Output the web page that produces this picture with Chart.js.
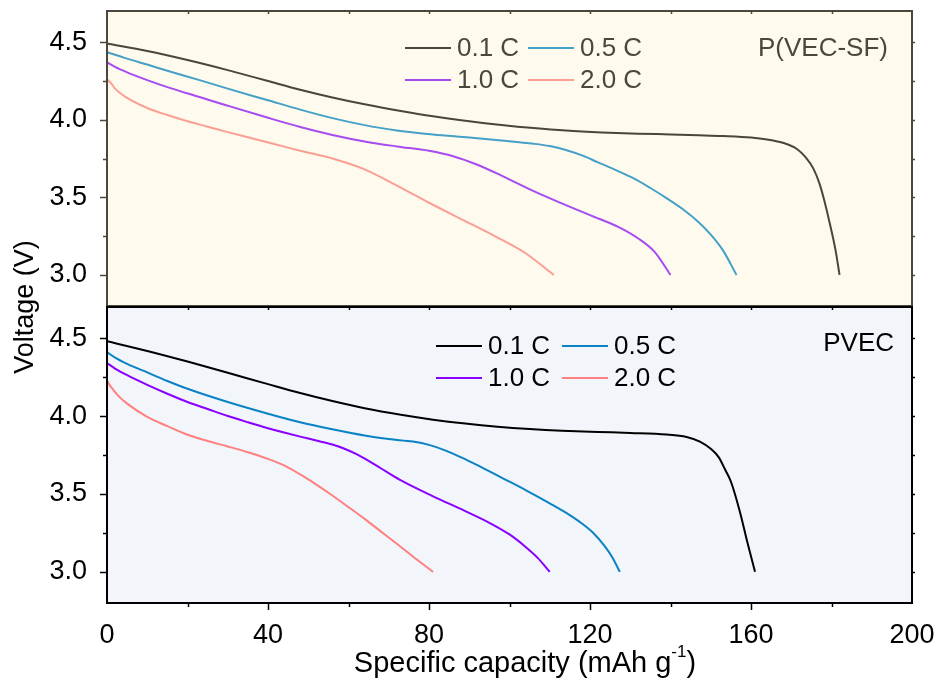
<!DOCTYPE html>
<html>
<head>
<meta charset="utf-8">
<script src="https://cdn.jsdelivr.net/npm/chart.js@4.4.1/dist/chart.umd.min.js"></script>
<style>
  html, body { margin: 0; padding: 0; background: #ffffff; }
  #wrap { position: relative; width: 939px; height: 682px; }
  #wrap canvas { position: absolute; left: 0; top: 0; }
</style>
</head>
<body>
<div id="wrap">
  <canvas id="chartSF" width="939" height="682"></canvas>
  <canvas id="chartPVEC" width="939" height="682"></canvas>
</div>
<script>
/* ── Axis ticks ── */
const xTickVals = [0, 40, 80, 120, 160, 200];
const yTickVals = [3.0, 3.5, 4.0, 4.5];
const rateLabels = ['0.1 C', '0.5 C', '1.0 C', '2.0 C'];

/* ── P(VEC-SF): capacity (mAh/g) and voltage (V) ── */
const capSF01  = [0, 10, 20, 30, 40, 48, 56, 64, 73, 81, 90, 98, 106, 114, 123, 132, 140, 147, 153, 160, 165.5, 169, 171.5, 173.5, 175.5, 177, 178, 179.5, 181, 182];
const voltSF01 = [4.49, 4.442, 4.384, 4.319, 4.249, 4.193, 4.143, 4.099, 4.056, 4.022, 3.99, 3.966, 3.946, 3.93, 3.918, 3.91, 3.905, 3.90, 3.895, 3.885, 3.866, 3.842, 3.81, 3.76, 3.685, 3.59, 3.50, 3.34, 3.16, 3.0];
const capSF05  = [0, 3, 6, 10, 15, 23, 30, 40, 48, 56, 64, 72, 81, 90, 98, 106, 110, 114, 118, 122, 126, 131, 135, 139, 143, 147, 150, 153, 156.4];
const voltSF05 = [4.435, 4.41, 4.385, 4.355, 4.315, 4.255, 4.20, 4.125, 4.065, 4.01, 3.965, 3.93, 3.905, 3.885, 3.866, 3.845, 3.83, 3.805, 3.77, 3.725, 3.68, 3.62, 3.56, 3.495, 3.425, 3.34, 3.26, 3.16, 3.0];
const capSF10  = [0, 2, 5, 10, 15, 23, 30, 40, 48, 56, 64, 72, 80, 86, 92, 98, 106, 114, 120, 127, 132, 136, 140];
const voltSF10 = [4.37, 4.34, 4.305, 4.255, 4.21, 4.146, 4.09, 4.012, 3.953, 3.902, 3.86, 3.828, 3.80, 3.765, 3.71, 3.64, 3.54, 3.45, 3.385, 3.31, 3.235, 3.15, 3.0];
const capSF20  = [0, 1, 2, 5, 10, 15, 20, 25, 30, 36, 42, 48, 56, 64, 72, 80, 88, 96, 104, 111];
const voltSF20 = [4.26, 4.235, 4.20, 4.14, 4.075, 4.03, 3.99, 3.955, 3.92, 3.88, 3.84, 3.80, 3.75, 3.68, 3.575, 3.465, 3.36, 3.255, 3.14, 3.0];

/* ── PVEC: capacity (mAh/g) and voltage (V) ── */
const capPV01  = [0, 10, 20, 30, 40, 48, 56, 64, 73, 81, 89, 97, 105, 113, 122, 130, 139, 144, 147.3, 150, 152, 153.5, 155, 157.3, 159, 161];
const voltPV01 = [4.48, 4.418, 4.35, 4.278, 4.205, 4.148, 4.096, 4.05, 4.008, 3.977, 3.952, 3.932, 3.917, 3.906, 3.898, 3.892, 3.882, 3.866, 3.836, 3.79, 3.735, 3.66, 3.58, 3.38, 3.20, 3.0];
const capPV05  = [0, 2, 5, 10, 15, 20, 30, 40, 48, 56, 64, 70, 76, 80, 84, 88, 92, 98, 104, 110, 114, 118, 121, 123.5, 125.5, 127.4];
const voltPV05 = [4.41, 4.375, 4.335, 4.28, 4.225, 4.175, 4.09, 4.015, 3.96, 3.915, 3.875, 3.852, 3.836, 3.815, 3.78, 3.735, 3.685, 3.605, 3.525, 3.44, 3.38, 3.31, 3.245, 3.17, 3.095, 3.0];
const capPV10  = [0, 2, 5, 10, 15, 20, 25, 30, 35, 40, 44, 48, 52, 56, 59, 62, 65, 68, 72.8, 81, 89, 95, 100, 104, 107, 110];
const voltPV10 = [4.34, 4.305, 4.262, 4.20, 4.143, 4.09, 4.045, 4.0, 3.96, 3.922, 3.894, 3.868, 3.843, 3.817, 3.79, 3.755, 3.712, 3.665, 3.59, 3.485, 3.39, 3.315, 3.24, 3.16, 3.09, 3.0];
const capPV20  = [0, 0.5, 1.5, 3, 5, 10, 15, 20, 25, 30, 35, 40, 44, 48, 52, 56, 60, 64, 68, 72, 76, 81];
const voltPV20 = [4.23, 4.205, 4.17, 4.125, 4.08, 3.995, 3.935, 3.88, 3.84, 3.805, 3.768, 3.725, 3.683, 3.625, 3.56, 3.49, 3.415, 3.34, 3.26, 3.18, 3.098, 3.0];

/* ── Layout (page pixels) ── */
const PLOT_LEFT  = 107;
const PLOT_RIGHT = 912;
const FONT = "'Liberation Sans', Arial, sans-serif";

function toPoints(caps, volts) {
  return caps.map((c, i) => ({ x: c, y: volts[i] }));
}

function makeDatasets(series, colors) {
  return series.map(([caps, volts], i) => ({
    label: rateLabels[i],
    data: toPoints(caps, volts),
    borderColor: colors[i],
    borderWidth: 2,
    pointRadius: 0,
    fill: false,
    cubicInterpolationMode: 'monotone'
  }));
}

/* ── Plugin: panel background, frame, tick marks, legend, panel name ── */
const panelDecor = {
  id: 'panelDecor',
  beforeDraw(chart, args, o) {
    const { ctx, chartArea: a } = chart;
    ctx.save();
    ctx.fillStyle = o.bg;
    ctx.fillRect(a.left, a.top, a.right - a.left, a.bottom - a.top);
    ctx.restore();
  },
  afterDraw(chart, args, o) {
    const { ctx, chartArea: a, scales } = chart;
    const xs = scales.x, ys = scales.y;
    ctx.save();
    ctx.strokeStyle = o.axis;
    ctx.lineWidth = 2;
    ctx.strokeRect(a.left, a.top, a.right - a.left, a.bottom - a.top);

    ctx.lineWidth = 1.5;
    ctx.beginPath();
    // x ticks every 20
    for (let v = 20; v < 200; v += 20) {
      const px = Math.round(xs.getPixelForValue(v)) + 0.5;
      const major = v % 40 === 0;
      ctx.moveTo(px, a.top);
      ctx.lineTo(px, a.top + 3);
      if (o.outerX) {
        ctx.moveTo(px, a.bottom);
        ctx.lineTo(px, a.bottom + (major ? 7 : 4));
      }
    }
    // y ticks every 0.25
    for (let k = 0; k <= 6; k++) {
      const v = 3.0 + k * 0.25;
      const py = Math.round(ys.getPixelForValue(v)) + 0.5;
      const major = k % 2 === 0;
      ctx.moveTo(a.left, py);
      ctx.lineTo(a.left - (major ? 7 : 4), py);
      ctx.moveTo(a.right, py);
      ctx.lineTo(a.right + 3, py);
    }
    ctx.stroke();

    // legend, two rows by two columns
    ctx.font = '26px ' + FONT;
    ctx.textBaseline = 'middle';
    ctx.textAlign = 'left';
    chart.data.datasets.forEach((ds, i) => {
      const col = i % 2, row = Math.floor(i / 2);
      const x0 = o.legendX[col];
      const y0 = o.legendY[row];
      ctx.strokeStyle = ds.borderColor;
      ctx.lineWidth = 2;
      ctx.beginPath();
      ctx.moveTo(x0, y0);
      ctx.lineTo(x0 + 46, y0);
      ctx.stroke();
      ctx.fillStyle = o.text;
      ctx.fillText(ds.label, x0 + 52, y0 + 1);
    });

    // panel name
    ctx.textAlign = 'right';
    ctx.fillStyle = o.text;
    ctx.fillText(o.name, o.nameX, o.nameY);
    ctx.restore();
  }
};

/* ── Plugin: shared axis titles ── */
const axisTitles = {
  id: 'axisTitles',
  afterDraw(chart) {
    const { ctx } = chart;
    ctx.save();
    ctx.fillStyle = '#000000';
    ctx.textBaseline = 'middle';

    // y title, spanning both panels
    ctx.font = '27px ' + FONT;
    ctx.translate(26, 307);
    ctx.rotate(-Math.PI / 2);
    ctx.textAlign = 'center';
    ctx.fillText('Voltage (V)', 0, 0);
    ctx.setTransform(1, 0, 0, 1, 0, 0);

    // x title with superscript
    const main = 'Specific capacity (mAh g';
    const sup = '-1';
    const tail = ')';
    ctx.font = '29px ' + FONT;
    const w1 = ctx.measureText(main).width;
    const w3 = ctx.measureText(tail).width;
    ctx.font = '17px ' + FONT;
    const w2 = ctx.measureText(sup).width;
    let x = 525 - (w1 + w2 + w3) / 2;
    const y = 664;
    ctx.textAlign = 'left';
    ctx.font = '29px ' + FONT;
    ctx.fillText(main, x, y);
    x += w1;
    ctx.font = '17px ' + FONT;
    ctx.fillText(sup, x, y - 12);
    x += w2;
    ctx.font = '29px ' + FONT;
    ctx.fillText(tail, x, y);
    ctx.restore();
  }
};

function yScale(color) {
  return {
    type: 'linear',
    min: 2.8,
    max: 4.7,
    grid: { display: false },
    border: { display: false },
    afterBuildTicks: s => { s.ticks = yTickVals.map(v => ({ value: v })); },
    afterFit: s => { s.width = PLOT_LEFT; s.paddingTop = 0; s.paddingBottom = 0; },
    ticks: {
      padding: 12,
      color: color,
      font: { family: FONT, size: 27 },
      callback: v => v.toFixed(1)
    }
  };
}

function xScale(showAxis) {
  return {
    type: 'linear',
    min: 0,
    max: 200,
    display: showAxis,
    grid: { display: false },
    border: { display: false },
    afterBuildTicks: s => { s.ticks = xTickVals.map(v => ({ value: v })); },
    afterFit: s => { if (showAxis) s.height = 682 - 603; s.paddingLeft = 0; s.paddingRight = 0; },
    ticks: {
      padding: 8,
      color: '#000000',
      maxRotation: 0,
      font: { family: FONT, size: 27 },
      callback: v => String(v)
    }
  };
}

/* ── Top panel: P(VEC-SF) ── */
new Chart(document.getElementById('chartSF'), {
  type: 'line',
  data: {
    datasets: makeDatasets(
      [[capSF01, voltSF01], [capSF05, voltSF05], [capSF10, voltSF10], [capSF20, voltSF20]],
      ['#4a463b', '#45a0c8', '#a64cf0', '#fa9f92']
    )
  },
  options: {
    responsive: false,
    animation: false,
    events: [],
    layout: { padding: { top: 11, right: 939 - PLOT_RIGHT, bottom: 682 - 306, left: 0 } },
    scales: { x: xScale(false), y: yScale('#000000') },
    plugins: {
      legend: { display: false },
      tooltip: { enabled: false },
      panelDecor: {
        bg: '#fffaee', axis: '#4b473c', text: '#4b473c', outerX: false,
        legendX: [405, 528], legendY: [48, 80],
        name: 'P(VEC-SF)', nameX: 888, nameY: 49
      }
    }
  },
  plugins: [panelDecor]
});

/* ── Bottom panel: PVEC ── */
new Chart(document.getElementById('chartPVEC'), {
  type: 'line',
  data: {
    datasets: makeDatasets(
      [[capPV01, voltPV01], [capPV05, voltPV05], [capPV10, voltPV10], [capPV20, voltPV20]],
      ['#000000', '#0a82c6', '#8a00ff', '#ff8080']
    )
  },
  options: {
    responsive: false,
    animation: false,
    events: [],
    layout: { padding: { top: 307, right: 939 - PLOT_RIGHT, bottom: 0, left: 0 } },
    scales: { x: xScale(true), y: yScale('#000000') },
    plugins: {
      legend: { display: false },
      tooltip: { enabled: false },
      panelDecor: {
        bg: '#f2f5fa', axis: '#000000', text: '#000000', outerX: true,
        legendX: [436, 562], legendY: [346, 378],
        name: 'PVEC', nameX: 894, nameY: 344
      }
    }
  },
  plugins: [panelDecor, axisTitles]
});
</script>
</body>
</html>
